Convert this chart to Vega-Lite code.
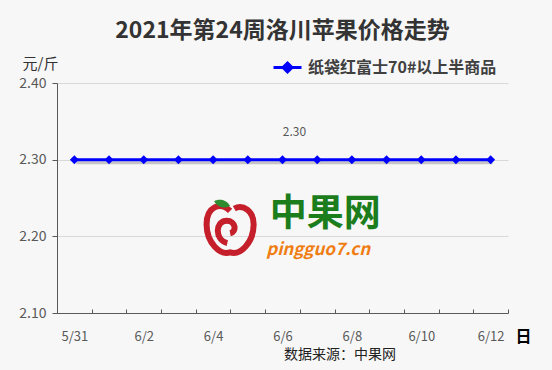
{
  "$schema": "https://vega.github.io/schema/vega-lite/v6.json",
  "width": 451,
  "height": 230,
  "autosize": "none",
  "padding": {"left": 57, "top": 83, "right": 44, "bottom": 57},
  "background": "#f7f7f7",
  "title": {"text": "2021年第24周洛川苹果价格走势", "fontSize": 23, "font": "Noto Sans CJK SC", "fontWeight": "bold", "color": "#333333", "anchor": "middle", "frame": "group", "offset": 9},
  "config": {"view": {"stroke": null}, "font": "Noto Sans CJK SC"},
  "data": {"values": [
    {"date": "5/31", "price": 2.30, "series": "纸袋红富士70#以上半商品"},
    {"date": "6/1", "price": 2.30, "series": "纸袋红富士70#以上半商品"},
    {"date": "6/2", "price": 2.30, "series": "纸袋红富士70#以上半商品"},
    {"date": "6/3", "price": 2.30, "series": "纸袋红富士70#以上半商品"},
    {"date": "6/4", "price": 2.30, "series": "纸袋红富士70#以上半商品"},
    {"date": "6/5", "price": 2.30, "series": "纸袋红富士70#以上半商品"},
    {"date": "6/6", "price": 2.30, "series": "纸袋红富士70#以上半商品"},
    {"date": "6/7", "price": 2.30, "series": "纸袋红富士70#以上半商品"},
    {"date": "6/8", "price": 2.30, "series": "纸袋红富士70#以上半商品"},
    {"date": "6/9", "price": 2.30, "series": "纸袋红富士70#以上半商品"},
    {"date": "6/10", "price": 2.30, "series": "纸袋红富士70#以上半商品"},
    {"date": "6/11", "price": 2.30, "series": "纸袋红富士70#以上半商品"},
    {"date": "6/12", "price": 2.30, "series": "纸袋红富士70#以上半商品"}
  ]},
  "encoding": {
    "x": {
      "field": "date", "type": "ordinal", "sort": null, "bandPosition": 0.5,
      "scale": {"type": "band", "paddingInner": 0, "paddingOuter": 0},
      "axis": {
        "title": "日", "titleX": 466, "titleY": 23, "titleAlign": "center", "titleBaseline": "middle",
        "titleFontSize": 16, "titleFontWeight": "bold", "titleColor": "#000000",
        "labelAngle": 0, "labelFontSize": 13, "labelColor": "#595959", "labelPadding": 21,
        "tickBand": "extent", "tickSize": -4, "tickColor": "#595959", "domainColor": "#595959",
        "grid": false,
        "labelExpr": "datum.value == '5/31' || datum.value == '6/2' || datum.value == '6/4' || datum.value == '6/6' || datum.value == '6/8' || datum.value == '6/10' || datum.value == '6/12' ? datum.label : ''"
      }
    },
    "y": {
      "field": "price", "type": "quantitative",
      "scale": {"domain": [2.1, 2.4], "nice": false, "zero": false},
      "axis": {
        "title": "元/斤", "titleAngle": 0, "titleX": -17, "titleY": -20, "titleAlign": "center", "titleBaseline": "middle",
        "titleFontSize": 15, "titleFontWeight": "normal", "titleColor": "#333333",
        "values": [2.1, 2.2, 2.3, 2.4], "format": ".2f",
        "labelFontSize": 14, "labelColor": "#595959", "labelPadding": 6,
        "tickSize": 5, "tickColor": "#595959", "domainColor": "#595959",
        "grid": true, "gridColor": "#d9d9d9"
      }
    }
  },
  "layer": [
    {
      "mark": {"type": "line", "color": "#000000", "opacity": 0.2, "strokeWidth": 3, "xOffset": 2, "yOffset": 3}
    },
    {
      "mark": {"type": "line", "strokeWidth": 3},
      "encoding": {
        "color": {
          "field": "series", "type": "nominal",
          "scale": {"range": ["#0000ff"]},
          "legend": {
            "title": null, "orient": "none", "legendX": 215, "legendY": -31, "padding": 0,
            "symbolType": "M-1,0H1M0,-0.32L0.32,0L0,0.32L-0.32,0Z", "symbolSize": 784, "symbolStrokeWidth": 3,
            "symbolFillColor": "#0000ff", "symbolStrokeColor": "#0000ff",
            "labelFontSize": 16, "labelFontWeight": "bold", "labelColor": "#404040", "labelOffset": 5, "labelLimit": 400
          }
        }
      }
    },
    {
      "mark": {"type": "point", "shape": "diamond", "filled": true, "size": 80, "color": "#0000ff", "opacity": 1}
    },
    {
      "transform": [{"filter": "datum.date == '6/6'"}],
      "mark": {"type": "text", "dx": 12, "dy": -28, "fontSize": 12, "color": "#595959"},
      "encoding": {"text": {"field": "price", "format": ".2f"}}
    },
    {
      "transform": [{"filter": "datum.date == '6/4'"}],
      "mark": {"type": "point", "shape": "M0,-0.6C-0.35,-0.95,-0.85,-0.75,-0.84,-0.1C-0.83,0.55,-0.35,1,0,0.88C0.35,1,0.83,0.55,0.84,-0.1C0.85,-0.6,0.45,-0.85,0.15,-0.68M-0.1,0.55C-0.55,0.45,-0.55,-0.25,-0.12,-0.25C0.2,-0.25,0.25,0.15,0,0.2", "filled": false, "size": 3136, "strokeWidth": 6, "color": "#c41f2b", "opacity": 1, "xOffset": 17, "yOffset": 68}
    },
    {
      "transform": [{"filter": "datum.date == '6/4'"}],
      "mark": {"type": "point", "shape": "M1,0.3C0.5,-0.6,-0.5,-0.6,-1,-0.3C-0.5,0.6,0.5,0.6,1,0.3Z", "filled": true, "size": 256, "color": "#2e8b2e", "opacity": 1, "xOffset": 9, "yOffset": 44}
    },
    {
      "transform": [{"filter": "datum.date == '6/7'"}],
      "mark": {"type": "text", "text": "中果网", "dx": 8, "dy": 55, "fontSize": 37, "fontWeight": "bold", "color": "#1b7d1b"}
    },
    {
      "transform": [{"filter": "datum.date == '6/7'"}],
      "mark": {"type": "text", "text": "pingguo7.cn", "dx": 1, "dy": 90, "fontSize": 17, "fontWeight": "bold", "fontStyle": "italic", "color": "#f07d12"}
    },
    {
      "transform": [{"filter": "datum.date == '6/8'"}],
      "mark": {"type": "text", "text": "数据来源：中果网", "dx": -12, "dy": 195, "fontSize": 14, "color": "#222222"}
    }
  ]
}
